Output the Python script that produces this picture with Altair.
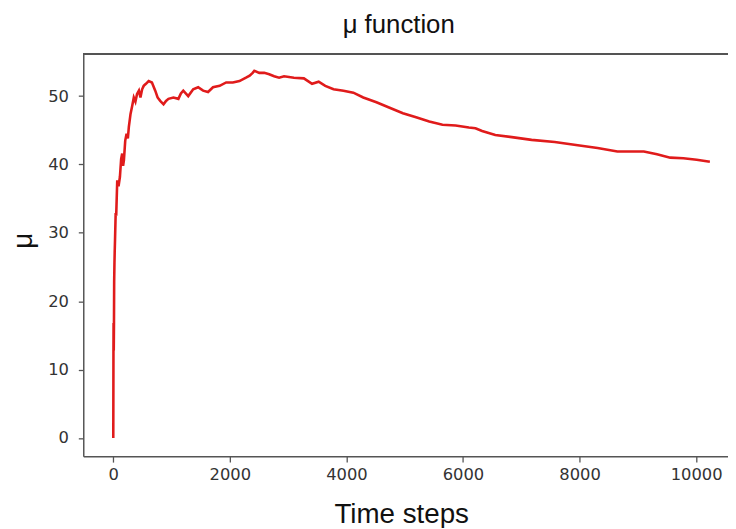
import altair as alt
import pandas as pd

steps = [0, 3, 5, 8, 12, 15, 20, 24, 30, 41, 50, 68, 90, 114, 135, 153, 168, 182, 205, 228,
         250, 267, 296, 325, 352, 380, 408, 440, 466, 495, 522, 560, 607, 663, 720, 760, 805,
         862, 905, 947, 1032, 1117, 1160, 1201, 1286, 1371, 1456, 1541, 1626, 1711, 1825,
         1937, 2051, 2165, 2277, 2340, 2391, 2420, 2505, 2590, 2675, 2760, 2845, 2930, 3099,
         3270, 3410, 3524, 3637, 3779, 3949, 4119, 4289, 4515, 4741, 4969, 5195, 5421, 5648,
         5874, 6100, 6214, 6328, 6554, 6838, 7177, 7574, 7969, 8309, 8649, 8876, 9103, 9329,
         9556, 9782, 10009, 10236]
mu = [0, 12.5, 16.8, 12.8, 17, 22.8, 25.5, 27.1, 29, 32.9, 32.5, 37.7, 36.8, 38.2, 40.8, 41.6,
      39.8, 40.6, 43.5, 44.5, 43.8, 45.5, 47.4, 48.6, 49.8, 49.2, 50.3, 50.8, 49.8, 51.0, 51.5,
      51.8, 52.2, 52.0, 50.8, 49.8, 49.3, 48.8, 49.3, 49.6, 49.8, 49.6, 50.4, 50.8, 50.0, 51.0,
      51.3, 50.8, 50.6, 51.3, 51.5, 52.0, 52.0, 52.2, 52.7, 53.0, 53.4, 53.7, 53.4, 53.4, 53.2,
      52.9, 52.7, 52.9, 52.7, 52.6, 51.8, 52.1, 51.5, 51.0, 50.8, 50.5, 49.8, 49.1, 48.3, 47.5,
      46.9, 46.3, 45.8, 45.7, 45.4, 45.3, 44.9, 44.3, 44.0, 43.6, 43.3, 42.8, 42.4, 41.9, 41.9,
      41.9, 41.5, 41.0, 40.9, 40.7, 40.4]
x_ticks = [0, 2000, 4000, 6000, 8000, 10000]
y_ticks = [0, 10, 20, 30, 40, 50]

df = pd.DataFrame({"step": steps, "mu": mu})

W, H = 651, 406

line = alt.Chart(df).mark_line(color="#e01b1b", strokeWidth=2.6, clip=True).encode(
    x=alt.X("step:Q",
            scale=alt.Scale(domain=[-515, 10547], nice=False, zero=False),
            axis=alt.Axis(values=x_ticks, format="d", title="Time steps", grid=False,
                          tickSize=6, labelPadding=5,
                          titleX=321, titleY=67, titleAlign="center",
                          titleBaseline="alphabetic")),
    y=alt.Y("mu:Q",
            scale=alt.Scale(domain=[-2.67, 56.15], nice=False, zero=False),
            axis=alt.Axis(values=y_ticks, format="d", title="μ", grid=False,
                          tickSize=5, labelPadding=10,
                          titleX=-60, titleY=188, titleAngle=270,
                          titleAlign="center", titleBaseline="middle")),
)

top_border = alt.Chart(df).mark_rule(color="#555", strokeWidth=1.5).encode(
    x=alt.value(0), x2=alt.value(W), y=alt.value(0)
)

chart = alt.layer(line, top_border).properties(
    width=W, height=H,
    title=alt.TitleParams("μ function", font="Liberation Sans", fontSize=26,
                          fontWeight="normal", color="#111", anchor="middle",
                          frame="group", dx=-7, dy=24, offset=19,
                          baseline="alphabetic"),
    autosize=alt.AutoSizeParams(type="none"),
    padding={"left": 76, "top": 44, "right": 0, "bottom": 70},
).configure_view(stroke=None).configure_axis(
    domainColor="#555", domainWidth=1.5, tickColor="#555", tickWidth=1.3,
    labelFont="DejaVu Sans", labelFontSize=16.5, labelColor="#333",
    titleFont="Liberation Sans", titleFontSize=28, titleFontWeight="normal",
    titleColor="#111",
)

chart.save("out.html", embed_options={"renderer": "svg", "actions": False})
